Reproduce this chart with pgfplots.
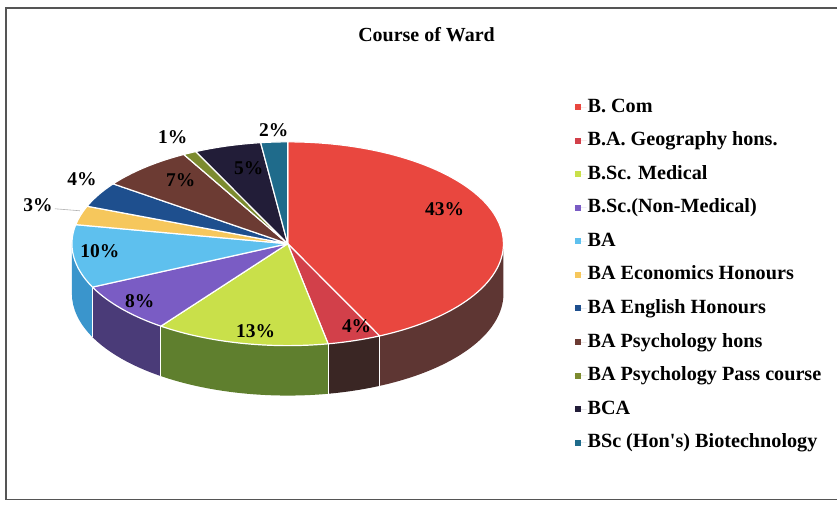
\documentclass[border=0pt]{standalone}
\usepackage{pgfplots}
\pgfplotsset{compat=1.18}
\usepackage{pgfplotstable}
\usepackage{fontspec}
\setmainfont{Liberation Serif}[Ligatures=TeXOff]

\definecolor{c0}{HTML}{E9473F}\definecolor{s0}{HTML}{5E3633}
\definecolor{c1}{HTML}{D2404A}\definecolor{s1}{HTML}{3A2624}
\definecolor{c2}{HTML}{C9E04A}\definecolor{s2}{HTML}{5F7F2E}
\definecolor{c3}{HTML}{7A5CC4}\definecolor{s3}{HTML}{4A3B78}
\definecolor{c4}{HTML}{5EC0EE}\definecolor{s4}{HTML}{3A95CC}
\definecolor{c5}{HTML}{F6C75C}\definecolor{s5}{HTML}{A07E30}
\definecolor{c6}{HTML}{1E4F8E}\definecolor{s6}{HTML}{12305A}
\definecolor{c7}{HTML}{6C3B33}\definecolor{s7}{HTML}{42241F}
\definecolor{c8}{HTML}{7C8B2F}\definecolor{s8}{HTML}{4A541C}
\definecolor{c9}{HTML}{221D38}\definecolor{s9}{HTML}{141122}
\definecolor{c10}{HTML}{1F6B8B}\definecolor{s10}{HTML}{134255}
\definecolor{framegray}{HTML}{555555}

% value = percentage, (lx, ly) = label position in picture pixels (from top-left)
\pgfplotstableread{
value lx ly
43 445 209
4  357 327
13 256 332
8  140 301
10 100 251
3  38  205
4  82  179
7  181 180
1  173 137
5  249 168
2  274 130
}\piedata

\tikzset{lbl/.style={font=\fontsize{19.5}{22}\selectfont\bfseries, inner sep=0pt}}

\begin{document}
\begin{tikzpicture}
\def\cx{288}\def\cy{262}\def\rx{216}\def\ry{102}\def\dep{50}
\pgfplotstablegetrowsof{\piedata}
\pgfmathtruncatemacro\nrows{\pgfplotsretval-1}
\xdef\cum{90}
\foreach \i in {0,...,\nrows}{%
  \pgfplotstablegetelem{\i}{value}\of\piedata
  \pgfmathsetmacro\e{\cum-3.6*\pgfplotsretval}%
  \expandafter\xdef\csname sA\i\endcsname{\cum}%
  \expandafter\xdef\csname sB\i\endcsname{\e}%
  \xdef\cum{\e}%
}
\begin{axis}[x=1pt,y=1pt,xmin=0,xmax=838,ymin=0,ymax=506,hide axis,clip=false,
  legend style={at={(axis cs:575,409)},anchor=north west,draw=none,fill=none,inner sep=0pt,
    font=\fontsize{20.2}{22}\selectfont\bfseries,row sep=13.6pt,
    nodes={inner sep=1pt,text height=14pt,text depth=4pt}},
  legend cell align=left,
  legend image code/.code={\fill[#1] (0pt,-3pt) rectangle (6pt,3pt);\path (0pt,0pt) -- (12pt,0pt);}]
\addplot[draw=none,forget plot] coordinates {(0,0)};
\fill[white] (axis cs:0,0) rectangle (axis cs:838,506);
\draw[framegray,line width=1.8pt] (axis cs:838,498) -- (axis cs:6,498) -- (axis cs:6,6) -- (axis cs:838,6);
\node[font=\fontsize{20}{24}\selectfont\bfseries] at (axis cs:427,471) {Course of Ward};

% side faces (front half only)
\pgfplotsforeachungrouped \i in {0,...,10}{%
  \edef\angS{\csname sA\i\endcsname}\edef\angE{\csname sB\i\endcsname}%
  \pgfmathsetmacro\angLo{max(\angE,-180)}%
  \pgfmathsetmacro\angHi{min(\angS,0)}%
  \pgfmathtruncatemacro\vis{\angLo<\angHi ? 1 : 0}%
  \ifnum\vis=1
    \pgfmathsetmacro\xb{\cx+\rx*cos(\angHi)}\pgfmathsetmacro\yb{\cy+\ry*sin(\angHi)}%
    \pgfmathsetmacro\xa{\cx+\rx*cos(\angLo)}\pgfmathsetmacro\ya{\cy+\ry*sin(\angLo)-\dep}%
    \edef\temp{\noexpand\fill[s\i] (axis cs:\xb,\yb) arc[start angle=\angHi,end angle=\angLo,x radius=\rx pt,y radius=\ry pt] -- (axis cs:\xa,\ya) arc[start angle=\angLo,end angle=\angHi,x radius=\rx pt,y radius=\ry pt] -- cycle;}%
    \temp
  \fi
}
% white vertical edges on the side
\pgfplotsforeachungrouped \i in {0,...,10}{%
  \edef\angE{\csname sB\i\endcsname}%
  \pgfmathtruncatemacro\vis{(\angE>-180)&&(\angE<0) ? 1 : 0}%
  \ifnum\vis=1
    \pgfmathsetmacro\xe{\cx+\rx*cos(\angE)}\pgfmathsetmacro\ye{\cy+\ry*sin(\angE)}%
    \pgfmathsetmacro\yf{\ye-\dep}%
    \edef\temp{\noexpand\draw[white,line width=1.2pt] (axis cs:\xe,\ye) -- (axis cs:\xe,\yf);}%
    \temp
  \fi
}
% top faces
\pgfplotsforeachungrouped \i in {0,...,10}{%
  \edef\angS{\csname sA\i\endcsname}\edef\angE{\csname sB\i\endcsname}%
  \pgfmathsetmacro\xs{\cx+\rx*cos(\angS)}\pgfmathsetmacro\ys{\cy+\ry*sin(\angS)}%
  \edef\temp{\noexpand\fill[c\i,draw=white,line width=1.2pt,line join=round] (axis cs:\cx,\cy) -- (axis cs:\xs,\ys) arc[start angle=\angS,end angle=\angE,x radius=\rx pt,y radius=\ry pt] -- cycle;}%
  \temp
}
% leader line for 3%
\draw[gray!60,line width=0.6pt] (axis cs:55,297) -- (axis cs:80,295);
% data labels
\pgfplotsforeachungrouped \i in {0,...,10}{%
  \pgfplotstablegetelem{\i}{value}\of\piedata\let\myv\pgfplotsretval
  \pgfplotstablegetelem{\i}{lx}\of\piedata\let\mylx\pgfplotsretval
  \pgfplotstablegetelem{\i}{ly}\of\piedata\let\myly\pgfplotsretval
  \pgfmathsetmacro\myLY{506-\myly}%
  \edef\temp{\noexpand\node[lbl] at (axis cs:\mylx,\myLY) {\myv\noexpand\%};}%
  \temp
}

\addlegendimage{fill=c0,draw=none}\addlegendentry{B. Com}
\addlegendimage{fill=c1,draw=none}\addlegendentry{B.A. Geography hons.}
\addlegendimage{fill=c2,draw=none}\addlegendentry{B.Sc. Medical}
\addlegendimage{fill=c3,draw=none}\addlegendentry{B.Sc.(Non-Medical)}
\addlegendimage{fill=c4,draw=none}\addlegendentry{BA}
\addlegendimage{fill=c5,draw=none}\addlegendentry{BA Economics Honours}
\addlegendimage{fill=c6,draw=none}\addlegendentry{BA English Honours}
\addlegendimage{fill=c7,draw=none}\addlegendentry{BA Psychology hons}
\addlegendimage{fill=c8,draw=none}\addlegendentry{BA Psychology Pass course}
\addlegendimage{fill=c9,draw=none}\addlegendentry{BCA}
\addlegendimage{fill=c10,draw=none}\addlegendentry{BSc (Hon's) Biotechnology}
\end{axis}
\end{tikzpicture}
\end{document}
